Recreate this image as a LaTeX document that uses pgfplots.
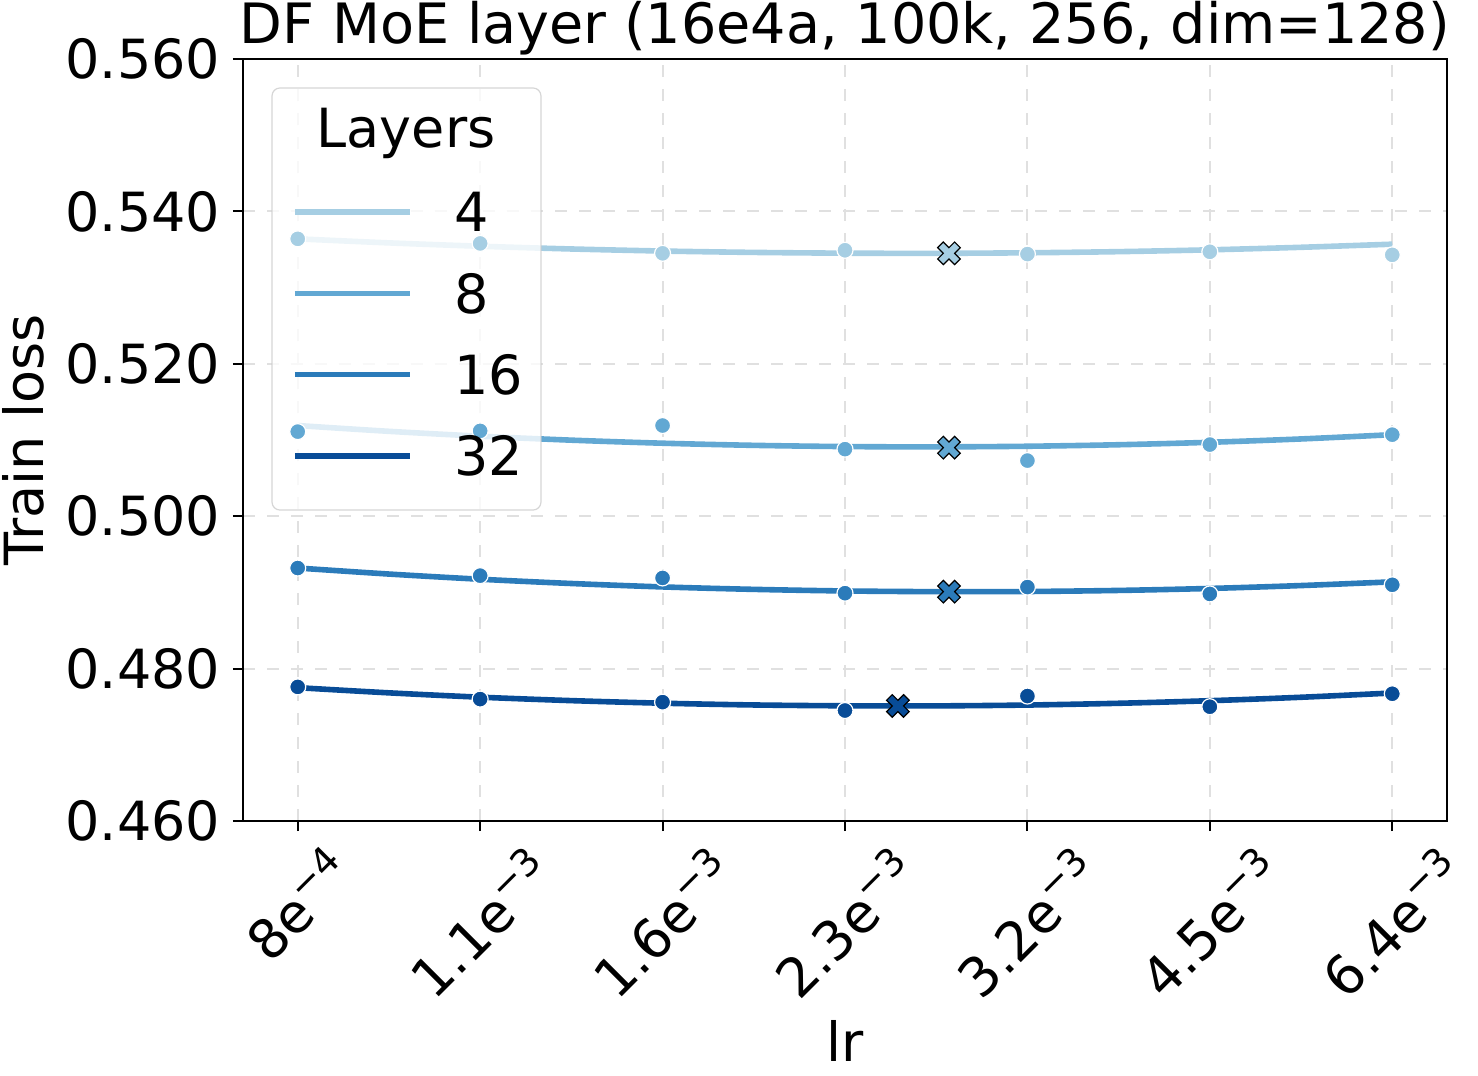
\documentclass[border=0pt]{standalone}
\usepackage{fontspec}
\setmainfont{DejaVu Sans}
\usepackage{pgfplots}
\usepackage{pgfplotstable}
\pgfplotsset{compat=1.18}
\definecolor{cA}{RGB}{166,206,227}
\definecolor{cB}{RGB}{98,168,211}
\definecolor{cC}{RGB}{43,123,186}
\definecolor{cD}{RGB}{8,76,151}
\definecolor{gridc}{RGB}{224,224,224}
\definecolor{legedge}{RGB}{204,204,204}

\pgfdeclareplotmark{Xf}{%
  \pgftransformrotate{45}%
  \pgfmathsetlengthmacro{\Lm}{\pgfplotmarksize}%
  \pgfmathsetlengthmacro{\Wm}{\pgfplotmarksize/3}%
  \pgfpathmoveto{\pgfpoint{\Wm}{\Lm}}%
  \pgfpathlineto{\pgfpoint{-\Wm}{\Lm}}%
  \pgfpathlineto{\pgfpoint{-\Wm}{\Wm}}%
  \pgfpathlineto{\pgfpoint{-\Lm}{\Wm}}%
  \pgfpathlineto{\pgfpoint{-\Lm}{-\Wm}}%
  \pgfpathlineto{\pgfpoint{-\Wm}{-\Wm}}%
  \pgfpathlineto{\pgfpoint{-\Wm}{-\Lm}}%
  \pgfpathlineto{\pgfpoint{\Wm}{-\Lm}}%
  \pgfpathlineto{\pgfpoint{\Wm}{-\Wm}}%
  \pgfpathlineto{\pgfpoint{\Lm}{-\Wm}}%
  \pgfpathlineto{\pgfpoint{\Lm}{\Wm}}%
  \pgfpathlineto{\pgfpoint{\Wm}{\Wm}}%
  \pgfpathclose
  \pgfusepathqfillstroke
}

% measured points
\pgfplotstableread{
x y
0 0.5364
1 0.5358
2 0.5345
3 0.5349
4 0.5344
5 0.5347
6 0.5343
}\ptsA
\pgfplotstableread{
x y
0 0.5111
1 0.5112
2 0.5119
3 0.5088
4 0.5073
5 0.5094
6 0.5107
}\ptsB
\pgfplotstableread{
x y
0 0.4932
1 0.4922
2 0.4919
3 0.4899
4 0.4907
5 0.4898
6 0.4910
}\ptsC
\pgfplotstableread{
x y
0 0.4776
1 0.4760
2 0.4756
3 0.4745
4 0.4764
5 0.4750
6 0.4767
}\ptsD
% fitted curves
\pgfplotstableread{
x y
0 0.53640
0.5 0.53587
1 0.53543
1.5 0.53507
2 0.53480
2.5 0.53462
3 0.53452
3.5 0.53450
4 0.53457
4.5 0.53472
5 0.53496
5.5 0.53529
6 0.53570
}\fitA
\pgfplotstableread{
x y
0 0.51190
0.5 0.51114
1 0.51050
1.5 0.50998
2 0.50958
2.5 0.50930
3 0.50914
3.5 0.50910
4 0.50918
4.5 0.50938
5 0.50970
5.5 0.51014
6 0.51070
}\fitB
\pgfplotstableread{
x y
0 0.49320
0.5 0.49241
1 0.49173
1.5 0.49117
2 0.49072
2.5 0.49040
3 0.49019
3.5 0.49010
4 0.49012
4.5 0.49026
5 0.49052
5.5 0.49090
6 0.49139
}\fitC
\pgfplotstableread{
x y
0 0.47750
0.5 0.47682
1 0.47625
1.5 0.47580
2 0.47546
2.5 0.47523
3 0.47512
3.5 0.47511
4 0.47522
4.5 0.47545
5 0.47579
5.5 0.47624
6 0.47680
}\fitD

\begin{document}
\fontsize{13.5}{16.2}\selectfont
\begin{tikzpicture}
\begin{axis}[
  name=ax,
  scale only axis,
  width=301pt, height=190.5pt,
  xmin=-0.30, xmax=6.30,
  ymin=0.46, ymax=0.56,
  xtick={0,1,2,3,4,5,6},
  xticklabels={
    \rotatebox{45}{8e\textsuperscript{−4}},
    \rotatebox{45}{1.1e\textsuperscript{−3}},
    \rotatebox{45}{1.6e\textsuperscript{−3}},
    \rotatebox{45}{2.3e\textsuperscript{−3}},
    \rotatebox{45}{3.2e\textsuperscript{−3}},
    \rotatebox{45}{4.5e\textsuperscript{−3}},
    \rotatebox{45}{6.4e\textsuperscript{−3}}},
  ytick={0.46,0.48,0.50,0.52,0.54,0.56},
  /pgf/number format/fixed,
  /pgf/number format/fixed zerofill,
  /pgf/number format/precision=3,
  /pgf/number format/assume math mode=true,
  xticklabel style={anchor=north, inner sep=0pt, yshift=-2.5pt},
  yticklabel style={inner sep=0pt, xshift=-3pt},
  tick align=outside,
  major tick length=2.5pt,
  tick style={black, line width=0.5pt},
  xtick pos=bottom, ytick pos=left,
  axis line style={black, line width=0.6pt},
  grid=major,
  major grid style={gridc, dashed, line width=0.5pt},
  title={DF MoE layer (16e4a, 100k, 256, dim=128)},
  every axis title shift=0pt,
  title style={at={(0.5,1)}, anchor=base, inner sep=0pt, yshift=4pt, font=\fontsize{13.9}{16.5}\selectfont},
  xlabel={lr},
  ylabel={Train loss},
  xlabel style={at={(axis description cs:0.5,-0.289)}, anchor=center},
  ylabel style={at={(axis description cs:-0.182,0.5)}, anchor=center},
  clip=false,
  legend style={draw=none, fill=none, inner sep=0pt, outer sep=0pt,
    at={(axis description cs:0.0407,0.8250)}, anchor=north west,
    nodes={inner sep=0pt, text height=9.9pt, text depth=0pt},
    row sep=10.4pt,
    /tikz/every odd column/.append style={column sep=10.5pt}},
  legend cell align=left,
  legend image code/.code={\draw[#1, line width=1.4pt] (0pt,0pt) -- (28.75pt,0pt);},
]
% fitted lines
\addplot[cA, line width=1.4pt, smooth, forget plot] table {\fitA};
\addplot[only marks, mark=*, mark size=2.0pt, mark options={fill=cA, draw=white, line width=0.3pt}, forget plot] table {\ptsA};
\addplot[cB, line width=1.4pt, smooth, forget plot] table {\fitB};
\addplot[only marks, mark=*, mark size=2.0pt, mark options={fill=cB, draw=white, line width=0.3pt}, forget plot] table {\ptsB};
\addplot[cC, line width=1.4pt, smooth, forget plot] table {\fitC};
\addplot[only marks, mark=*, mark size=2.0pt, mark options={fill=cC, draw=white, line width=0.3pt}, forget plot] table {\ptsC};
\addplot[cD, line width=1.4pt, smooth, forget plot] table {\fitD};
\addplot[only marks, mark=*, mark size=2.0pt, mark options={fill=cD, draw=white, line width=0.3pt}, forget plot] table {\ptsD};
% optima
\addplot[only marks, mark=Xf, mark size=3.0pt, mark options={fill=cA, draw=black, line width=0.3pt}, forget plot] coordinates {(3.57,0.5345)};
\addplot[only marks, mark=Xf, mark size=3.0pt, mark options={fill=cB, draw=black, line width=0.3pt}, forget plot] coordinates {(3.57,0.5090)};
\addplot[only marks, mark=Xf, mark size=3.0pt, mark options={fill=cC, draw=black, line width=0.3pt}, forget plot] coordinates {(3.57,0.4901)};
\addplot[only marks, mark=Xf, mark size=3.0pt, mark options={fill=cD, draw=black, line width=0.3pt}, forget plot] coordinates {(3.29,0.4751)};
% legend box
\draw[fill=white, fill opacity=0.8, draw=legedge, draw opacity=0.8, line width=0.3pt, rounded corners=2pt]
  (axis description cs:0.0241,0.4081) rectangle (axis description cs:0.2475,0.962);
\node[anchor=center, inner sep=0pt] at (axis description cs:0.1354,0.9029) {Layers};
\addlegendimage{cA}\addlegendentry{4}
\addlegendimage{cB}\addlegendentry{8}
\addlegendimage{cC}\addlegendentry{16}
\addlegendimage{cD}\addlegendentry{32}
\end{axis}
\path (ax.south west) ++(-60.75pt,-63.5pt) coordinate (bbA);
\path (ax.north east) ++(7.75pt,14.75pt) coordinate (bbB);
\pgfresetboundingbox
\path[use as bounding box] (bbA) rectangle (bbB);
\end{tikzpicture}
\end{document}
